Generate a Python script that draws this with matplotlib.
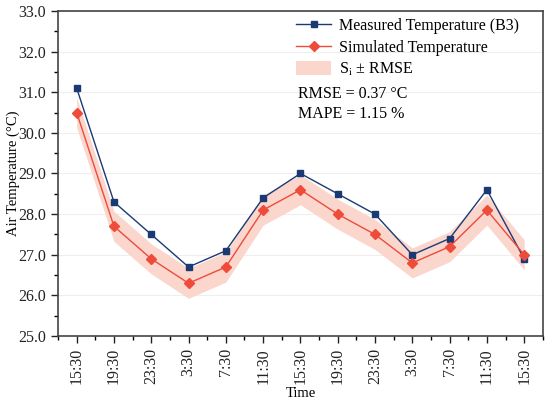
import numpy as np
import matplotlib
matplotlib.use("Agg")
from matplotlib import pyplot as plt
from matplotlib.patches import Patch
from matplotlib.lines import Line2D
from matplotlib.ticker import MultipleLocator, FormatStrFormatter

plt.rcParams['font.family'] = ['Liberation Serif', 'DejaVu Serif']
plt.rcParams['mathtext.fontset'] = 'stix'

# podaci s grafa
vremena = ["15:30", "19:30", "23:30", "3:30", "7:30", "11:30", "15:30",
           "19:30", "23:30", "3:30", "7:30", "11:30", "15:30"]
izmjereno = [31.1, 28.3, 27.5, 26.7, 27.1, 28.4, 29.0, 28.5, 28.0, 27.0, 27.4, 28.6, 26.9]
simulirano = [30.5, 27.7, 26.9, 26.3, 26.7, 28.1, 28.6, 28.0, 27.5, 26.8, 27.2, 28.1, 27.0]
rmse = 0.37
mape = 1.15

plava = "#1B3A73"
crvena = "#EE4B3A"
roza = "#FAD6CD"
vel = 11.5

x = np.arange(len(vremena))
sim = np.array(simulirano)

fig = plt.figure(figsize=(5.5, 4.03), dpi=100)
ax = fig.add_axes([0.1055, 0.166, 0.8815, 0.807])

ax.fill_between(x, sim - rmse, sim + rmse, color=roza, linewidth=0, zorder=1)
ax.plot(x, izmjereno, color=plava, marker='s', markersize=4.8, linewidth=1, zorder=3)
ax.plot(x, simulirano, color=crvena, marker='D', markersize=5, linewidth=1, zorder=4)

ax.set_xlim(-0.5, len(vremena) - 0.5)
ax.set_ylim(25, 33)
ax.set_xticks(x)
ax.set_xticklabels(vremena, rotation=90)
ax.xaxis.set_minor_locator(MultipleLocator(0.5))
ax.yaxis.set_major_locator(MultipleLocator(1))
ax.yaxis.set_minor_locator(MultipleLocator(0.5))
ax.yaxis.set_major_formatter(FormatStrFormatter('%.1f'))
ax.grid(axis='y', color='#EEEEEE', linewidth=0.8, zorder=0)
ax.set_axisbelow(True)

ax.tick_params(which='major', direction='out', length=5, width=1, labelsize=vel, colors='#222222')
ax.tick_params(which='minor', direction='out', length=3, width=1)
for s in ax.spines.values():
    s.set_color('#444444')
    s.set_linewidth(1.2)

ax.set_xlabel("Time", fontsize=10.5, labelpad=2)
ax.set_ylabel("Air Temperature (\u00b0C)", fontsize=10.5)
ax.yaxis.set_label_coords(-0.078, 0.5)

rucke = [
    Line2D([0], [0], color=plava, marker='s', markersize=4.8, linewidth=1),
    Line2D([0], [0], color=crvena, marker='D', markersize=5, linewidth=1),
    Patch(facecolor=roza, edgecolor='none'),
]
oznake = ["Measured Temperature (B3)", "Simulated Temperature", "S$_\\mathrm{i}$ \u00b1 RMSE"]
ax.legend(rucke, oznake, loc='upper left', bbox_to_anchor=(0.465, 1.018), frameon=False,
          fontsize=vel, handlelength=2.2, handleheight=1.0, handletextpad=0.45,
          labelspacing=0.3, borderpad=0.3)

ax.text(0.494, 0.733, f"RMSE = {rmse} \u00b0C", transform=ax.transAxes, fontsize=vel)
ax.text(0.494, 0.671, f"MAPE = {mape} %", transform=ax.transAxes, fontsize=vel)

fig.savefig("out.png", dpi=100)
